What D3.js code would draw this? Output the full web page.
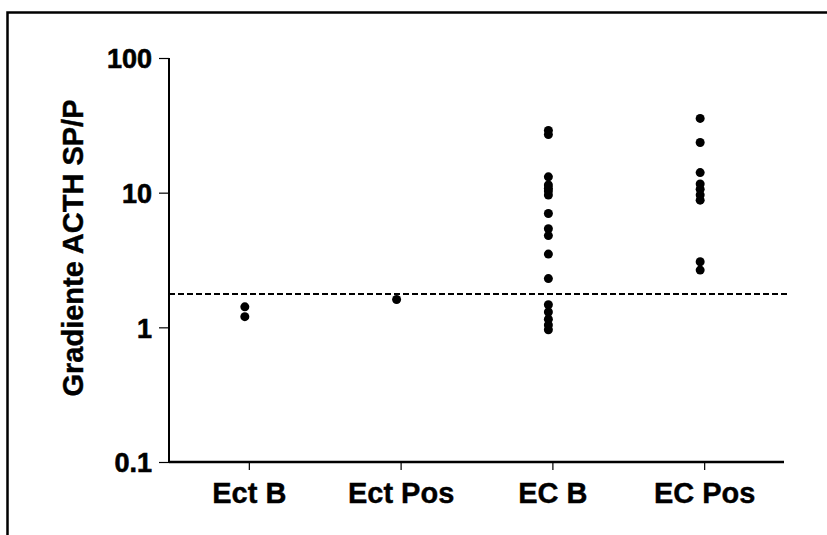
<!DOCTYPE html>
<html>
<head>
<meta charset="utf-8">
<script src="https://cdn.jsdelivr.net/npm/d3@7"></script>
<style>
  body { margin: 0; background: #fff; }
  text { font-family: "Liberation Sans", Arial, sans-serif; font-weight: bold; fill: #000; }
</style>
</head>
<body>
<div class="chart"></div>
<script>
// chart size
var svgW = 827;
var svgH = 535;

// categories and values
var groups = ["Ect B", "Ect Pos", "EC B", "EC Pos"];
var ectB = [1.42, 1.2];
var ectPos = [1.61];
var ecB = [29, 27, 13.1, 11.4, 10.8, 10.3, 9.6, 7.0, 5.4, 4.8, 3.5, 2.3, 1.47, 1.3, 1.15, 1.04, 0.96];
var ecPos = [35.6, 23.6, 14.1, 11.6, 10.6, 9.6, 8.8, 3.07, 2.66];
var yTicks = [0.1, 1, 10, 100];
var cutoff = 1.77;

var seriesList = [ectB, ectPos, ecB, ecPos];
var points = [];
seriesList.forEach(function(vals, i) {
    vals.forEach(function(v) {
        points.push({ group: groups[i], value: v });
    });
});

var svg = d3.select(".chart")
    .append("svg")
    .attr("width", svgW)
    .attr("height", svgH);

// frame (top and left edges only)
svg.append("path")
    .attr("d", "M7.5,535 L7.5,12.5 L827,12.5")
    .attr("fill", "none")
    .attr("stroke", "#000")
    .attr("stroke-width", 2.5);

var x = d3.scalePoint()
    .domain(groups)
    .range([169, 784])
    .padding(0.526);

var y = d3.scaleLog()
    .domain([0.1, 100])
    .range([462, 58]);

// y axis
var yAxis = svg.append("g")
    .attr("transform", "translate(169,0)")
    .call(d3.axisLeft(y).tickValues(yTicks).tickSize(10).tickPadding(7)
        .tickFormat(function(d) { return String(d); }));
yAxis.select(".domain").attr("stroke-width", 2).attr("d", "M0,58V462");
yAxis.selectAll(".tick line").attr("stroke-width", 1.2);
yAxis.selectAll(".tick text")
    .style("font-size", "27px")
    .attr("dy", "0.36em")
    .attr("stroke", "#000")
    .attr("stroke-width", 0.6);

// x axis
var xAxis = svg.append("g")
    .attr("transform", "translate(0,462)")
    .call(d3.axisBottom(x).tickSize(8).tickPadding(10));
xAxis.select(".domain").attr("stroke-width", 2.5).attr("d", "M169,0H784");
xAxis.selectAll(".tick line").attr("stroke-width", 1.2);
xAxis.selectAll(".tick text")
    .style("font-size", "29px")
    .attr("dy", "0.8em")
    .attr("stroke", "#000")
    .attr("stroke-width", 0.4);

// y label
svg.append("text")
    .attr("transform", "translate(83,248) rotate(-90)")
    .attr("text-anchor", "middle")
    .style("font-size", "29px")
    .attr("stroke", "#000")
    .attr("stroke-width", 0.4)
    .text("Gradiente ACTH SP/P");

// cutoff line
svg.append("line")
    .attr("x1", 169)
    .attr("x2", 788)
    .attr("y1", y(cutoff))
    .attr("y2", y(cutoff))
    .attr("stroke", "#000")
    .attr("stroke-width", 2)
    .attr("stroke-dasharray", "6,3");

// dots
svg.selectAll("circle.dot")
    .data(points)
    .enter().append("circle")
    .attr("class", "dot")
    .attr("cx", function(d) { return x(d.group) - 4; })
    .attr("cy", function(d) { return y(d.value); })
    .attr("r", 4.5)
    .attr("fill", "#000");
</script>
</body>
</html>
